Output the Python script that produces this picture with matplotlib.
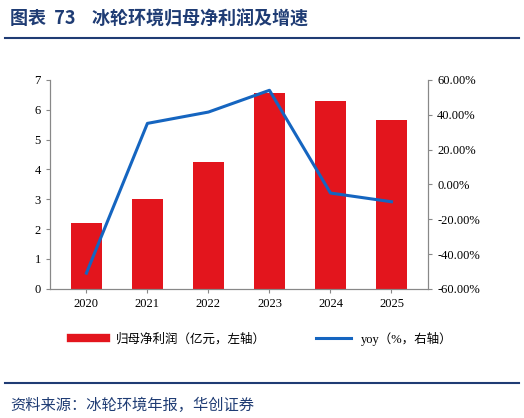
import matplotlib
matplotlib.use("Agg")
import matplotlib.pyplot as plt
from matplotlib.lines import Line2D
from matplotlib.ticker import FuncFormatter

plt.rcParams["font.family"] = ["Liberation Serif", "Noto Sans CJK SC"]

years = ["2020", "2021", "2022", "2023", "2024", "2025"]
profit = [2.2, 3.0, 4.25, 6.55, 6.3, 5.65]
yoy = [-51.0, 35.0, 41.5, 54.0, -5.0, -10.0]

navy = "#1F3C74"
fig = plt.figure(figsize=(5.24, 4.18), dpi=100)
ax = fig.add_axes([0.095, 0.309, 0.722, 0.5])
x = range(len(years))
ax.bar(x, profit, width=0.5, color="#E3151D", zorder=2)
ax.set_ylim(0, 7)
ax.set_xlim(-0.6, 5.6)
ax.set_xticks(list(x))
ax.set_xticklabels(years)
ax.set_yticks(range(8))

ax2 = ax.twinx()
ax2.plot(x, yoy, color="#1565C0", lw=2.2, zorder=3)
ax2.set_ylim(-60, 60)
ax2.set_yticks(range(-60, 61, 20))
ax2.yaxis.set_major_formatter(FuncFormatter(lambda v, p: f"{v:.2f}%"))

for a in (ax, ax2):
    for s in a.spines.values():
        s.set_color("#888888")
    a.spines["top"].set_visible(False)
    a.tick_params(labelsize=9, color="#888888", length=3)

fig.text(0.02, 0.955, "图表  73    冰轮环境归母净利润及增速", fontsize=13, fontweight="bold",
         color=navy, family=["Noto Sans CJK SC"], va="center")
fig.add_artist(Line2D([0.01, 0.99], [0.909, 0.909], color=navy, lw=1.5))
fig.add_artist(Line2D([0.01, 0.99], [0.084, 0.084], color=navy, lw=1.5))
fig.text(0.02, 0.03, "资料来源：冰轮环境年报，华创证券", fontsize=11, style="italic",
         color=navy, family=["Noto Sans CJK SC"], va="center")

handles = [Line2D([], [], color="#E3151D", lw=6), Line2D([], [], color="#1565C0", lw=2.2)]
fig.legend(handles, ["归母净利润（亿元，左轴）", "yoy（%，右轴）"], loc="center",
           bbox_to_anchor=(0.5, 0.19), ncol=2, frameon=False, fontsize=9,
           handlelength=2.8, columnspacing=4,
           prop={"family": ["Liberation Serif", "Noto Sans CJK SC"], "size": 9})

fig.savefig("out.png", dpi=100)
